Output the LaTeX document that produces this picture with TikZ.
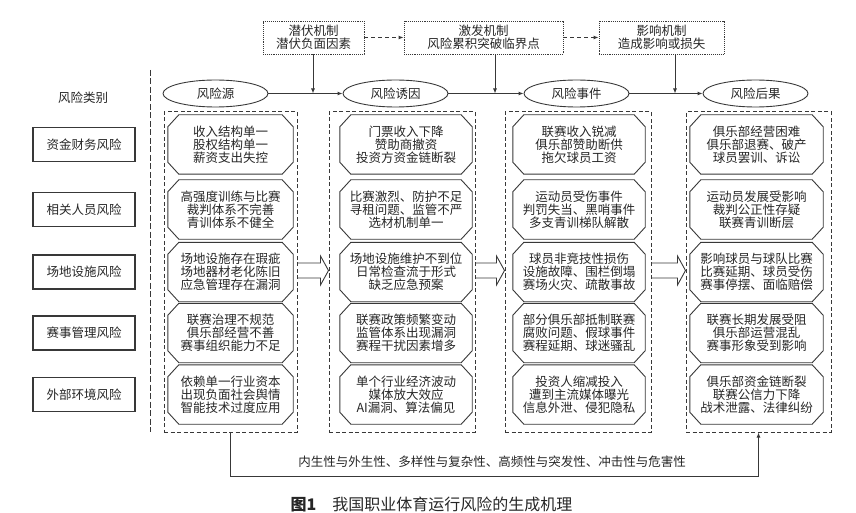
\documentclass[tikz,border=0pt]{standalone}
\usepackage{fontspec}
\newfontfamily\cjk{Noto Sans CJK SC}
\usetikzlibrary{arrows.meta,positioning,calc,shapes.geometric}
\definecolor{Ink}{HTML}{262626}
\definecolor{Rule}{HTML}{383838}

\begin{document}
\begin{tikzpicture}[x=1pt,y=-1pt,
    font=\cjk\fontsize{12.5}{12.8}\selectfont,text=Ink,
    Arr/.style={-{Latex[length=5pt,width=4pt]},Rule,line width=0.9pt},
    catbox/.style={draw=Rule,line width=1.2pt,minimum width=102pt,minimum height=34pt,inner sep=0pt},
    mechbox/.style={draw=Rule,densely dotted,line width=0.9pt,minimum height=33pt,inner sep=0pt,align=center},
    stage/.style={ellipse,draw=Rule,line width=0.9pt,minimum width=105pt,minimum height=27pt,inner sep=0pt},
    lane/.style={draw=Rule,dash pattern=on 4pt off 2.5pt,line width=1pt,minimum height=320pt,inner sep=0pt},
    item/.style={minimum height=59pt,inner sep=0pt,align=center},
    cut/.style={draw=Rule,line width=0.9pt,line join=miter}]
        \useasboundingbox (0,0) rectangle (856,513);
        \node (kind) at (83,98) {风险类别};
        \node[catbox] (cat1) at (84,144.5) {资金财务风险};
        \node[catbox] (cat2) at (84,209.5) {相关人员风险};
        \node[catbox] (cat3) at (84,272) {场地设施风险};
        \node[catbox] (cat4) at (84,333) {赛事管理风险};
        \node[catbox] (cat5) at (84,394.5) {外部环境风险};
        \draw[Rule,dash pattern=on 6pt off 2.5pt,line width=1pt] (150,70) -- (150,432);

        \node[mechbox,minimum width=101pt] (m1) at (313.5,37.5) {潜伏机制\\潜伏负面因素};
        \node[mechbox,minimum width=159pt] (m2) at (483.5,37.5) {激发机制\\风险累积突破临界点};
        \node[mechbox,minimum width=125pt] (m3) at (661.5,37.5) {影响机制\\造成影响或损失};
        \draw[Arr,dash pattern=on 4pt off 3pt] (m1) -- (m2);
        \draw[Arr,dash pattern=on 4pt off 3pt] (m2) -- (m3);

        \node[stage] (e1) at (215.5,93.5) {风险源};
        \node[stage] (e2) at (395.5,93.5) {风险诱因};
        \node[stage] (e3) at (576.5,93.5) {风险事件};
        \node[stage] (e4) at (755.5,93.5) {风险后果};
        \draw[Arr] (e1) -- (e2);
        \draw[Arr] (e2) -- (e3);
        \draw[Arr] (e3) -- (e4);
        \coordinate (j1) at (313,93.5);
        \coordinate (j2) at (495,93.5);
        \coordinate (j3) at (675,93.5);
        \draw[Arr] (m1.south -| j1) -- (j1);
        \draw[Arr] (m2.south -| j2) -- (j2);
        \draw[Arr] (m3.south -| j3) -- (j3);

        \node[lane,minimum width=133pt] (c1) at (230.5,272) {};
        \node[lane,minimum width=146pt] (c2) at (402,272) {};
        \node[lane,minimum width=146pt] (c3) at (578,272) {};
        \node[lane,minimum width=145pt] (c4) at (758.5,272) {};

        \node[item,minimum width=125pt] (src1) at (230.5,144.5) {收入结构单一\\股权结构单一\\薪资支出失控};
        \node[item,minimum width=125pt] (src2) at (230.5,209.5) {高强度训练与比赛\\裁判体系不完善\\青训体系不健全};
        \node[item,minimum width=125pt] (src3) at (230.5,272) {场地设施存在瑕疵\\场地器材老化陈旧\\应急管理存在漏洞};
        \node[item,minimum width=125pt] (src4) at (230.5,333) {联赛治理不规范\\俱乐部经营不善\\赛事组织能力不足};
        \node[item,minimum width=125pt] (src5) at (230.5,394.5) {依赖单一行业资本\\出现负面社会舆情\\智能技术过度应用};

        \node[item,minimum width=132pt] (cause1) at (406,144.5) {门票收入下降\\赞助商撤资\\投资方资金链断裂};
        \node[item,minimum width=132pt] (cause2) at (406,209.5) {比赛激烈、防护不足\\寻租问题、监管不严\\选材机制单一};
        \node[item,minimum width=132pt] (cause3) at (406,272) {场地设施维护不到位\\日常检查流于形式\\缺乏应急预案};
        \node[item,minimum width=132pt] (cause4) at (406,333) {联赛政策频繁变动\\监管体系出现漏洞\\赛程干扰因素增多};
        \node[item,minimum width=132pt] (cause5) at (406,394.5) {单个行业经济波动\\媒体放大效应\\AI漏洞、算法偏见};

        \node[item,minimum width=132pt] (event1) at (579,144.5) {联赛收入锐减\\俱乐部赞助断供\\拖欠球员工资};
        \node[item,minimum width=132pt] (event2) at (579,209.5) {运动员受伤事件\\判罚失当、黑哨事件\\多支青训梯队解散};
        \node[item,minimum width=132pt] (event3) at (579,272) {球员非竞技性损伤\\设施故障、围栏倒塌\\赛场火灾、疏散事故};
        \node[item,minimum width=132pt] (event4) at (579,333) {部分俱乐部抵制联赛\\腐败问题、假球事件\\赛程延期、球迷骚乱};
        \node[item,minimum width=132pt] (event5) at (579,394.5) {投资人缩减投入\\遭到主流媒体曝光\\信息外泄、侵犯隐私};

        \node[item,minimum width=133pt] (effect1) at (756.5,144.5) {俱乐部经营困难\\俱乐部退赛、破产\\球员罢训、诉讼};
        \node[item,minimum width=133pt] (effect2) at (756.5,209.5) {运动员发展受影响\\裁判公正性存疑\\联赛青训断层};
        \node[item,minimum width=133pt] (effect3) at (756.5,272) {影响球员与球队比赛\\比赛延期、球员受伤\\赛事停摆、面临赔偿};
        \node[item,minimum width=133pt] (effect4) at (756.5,333) {联赛长期发展受阻\\俱乐部运营混乱\\赛事形象受到影响};
        \node[item,minimum width=133pt] (effect5) at (756.5,394.5) {俱乐部资金链断裂\\联赛公信力下降\\战术泄露、法律纠纷};

        \foreach \col in {src,cause,event,effect}
          \foreach \r in {1,...,5}
            \draw[cut] ([xshift=11pt]\col\r.north west) -- ([xshift=-11pt]\col\r.north east)
              -- ([yshift=-12pt]\col\r.north east) -- ([yshift=12pt]\col\r.south east)
              -- ([xshift=-11pt]\col\r.south east) -- ([xshift=11pt]\col\r.south west)
              -- ([yshift=12pt]\col\r.south west) -- ([yshift=-12pt]\col\r.north west) -- cycle;

        \foreach \a/\b in {c1/c2,c2/c3,c3/c4}
          \draw[cut] ($(\a.east)+(0,-9)$) -- ($(\b.west)+(-8,-9)$) -- ($(\b.west)+(-8,-16)$)
            -- ($(\b.west)+(0,-1.5)$) -- ($(\b.west)+(-8,13)$) -- ($(\b.west)+(-8,6)$) -- ($(\a.east)+(0,6)$);

        \draw[Arr] (c1.south) -- ++(0,44) -| (c4.south);
        \node (traits) at (492,462) {内生性与外生性、多样性与复杂性、高频性与突发性、冲击性与危害性};
        \node[font=\cjk\fontsize{16}{16}\selectfont] (caption) at (431.5,504.5) {{\bfseries 图1}\quad 我国职业体育运行风险的生成机理};
      \end{tikzpicture}
\end{document}
